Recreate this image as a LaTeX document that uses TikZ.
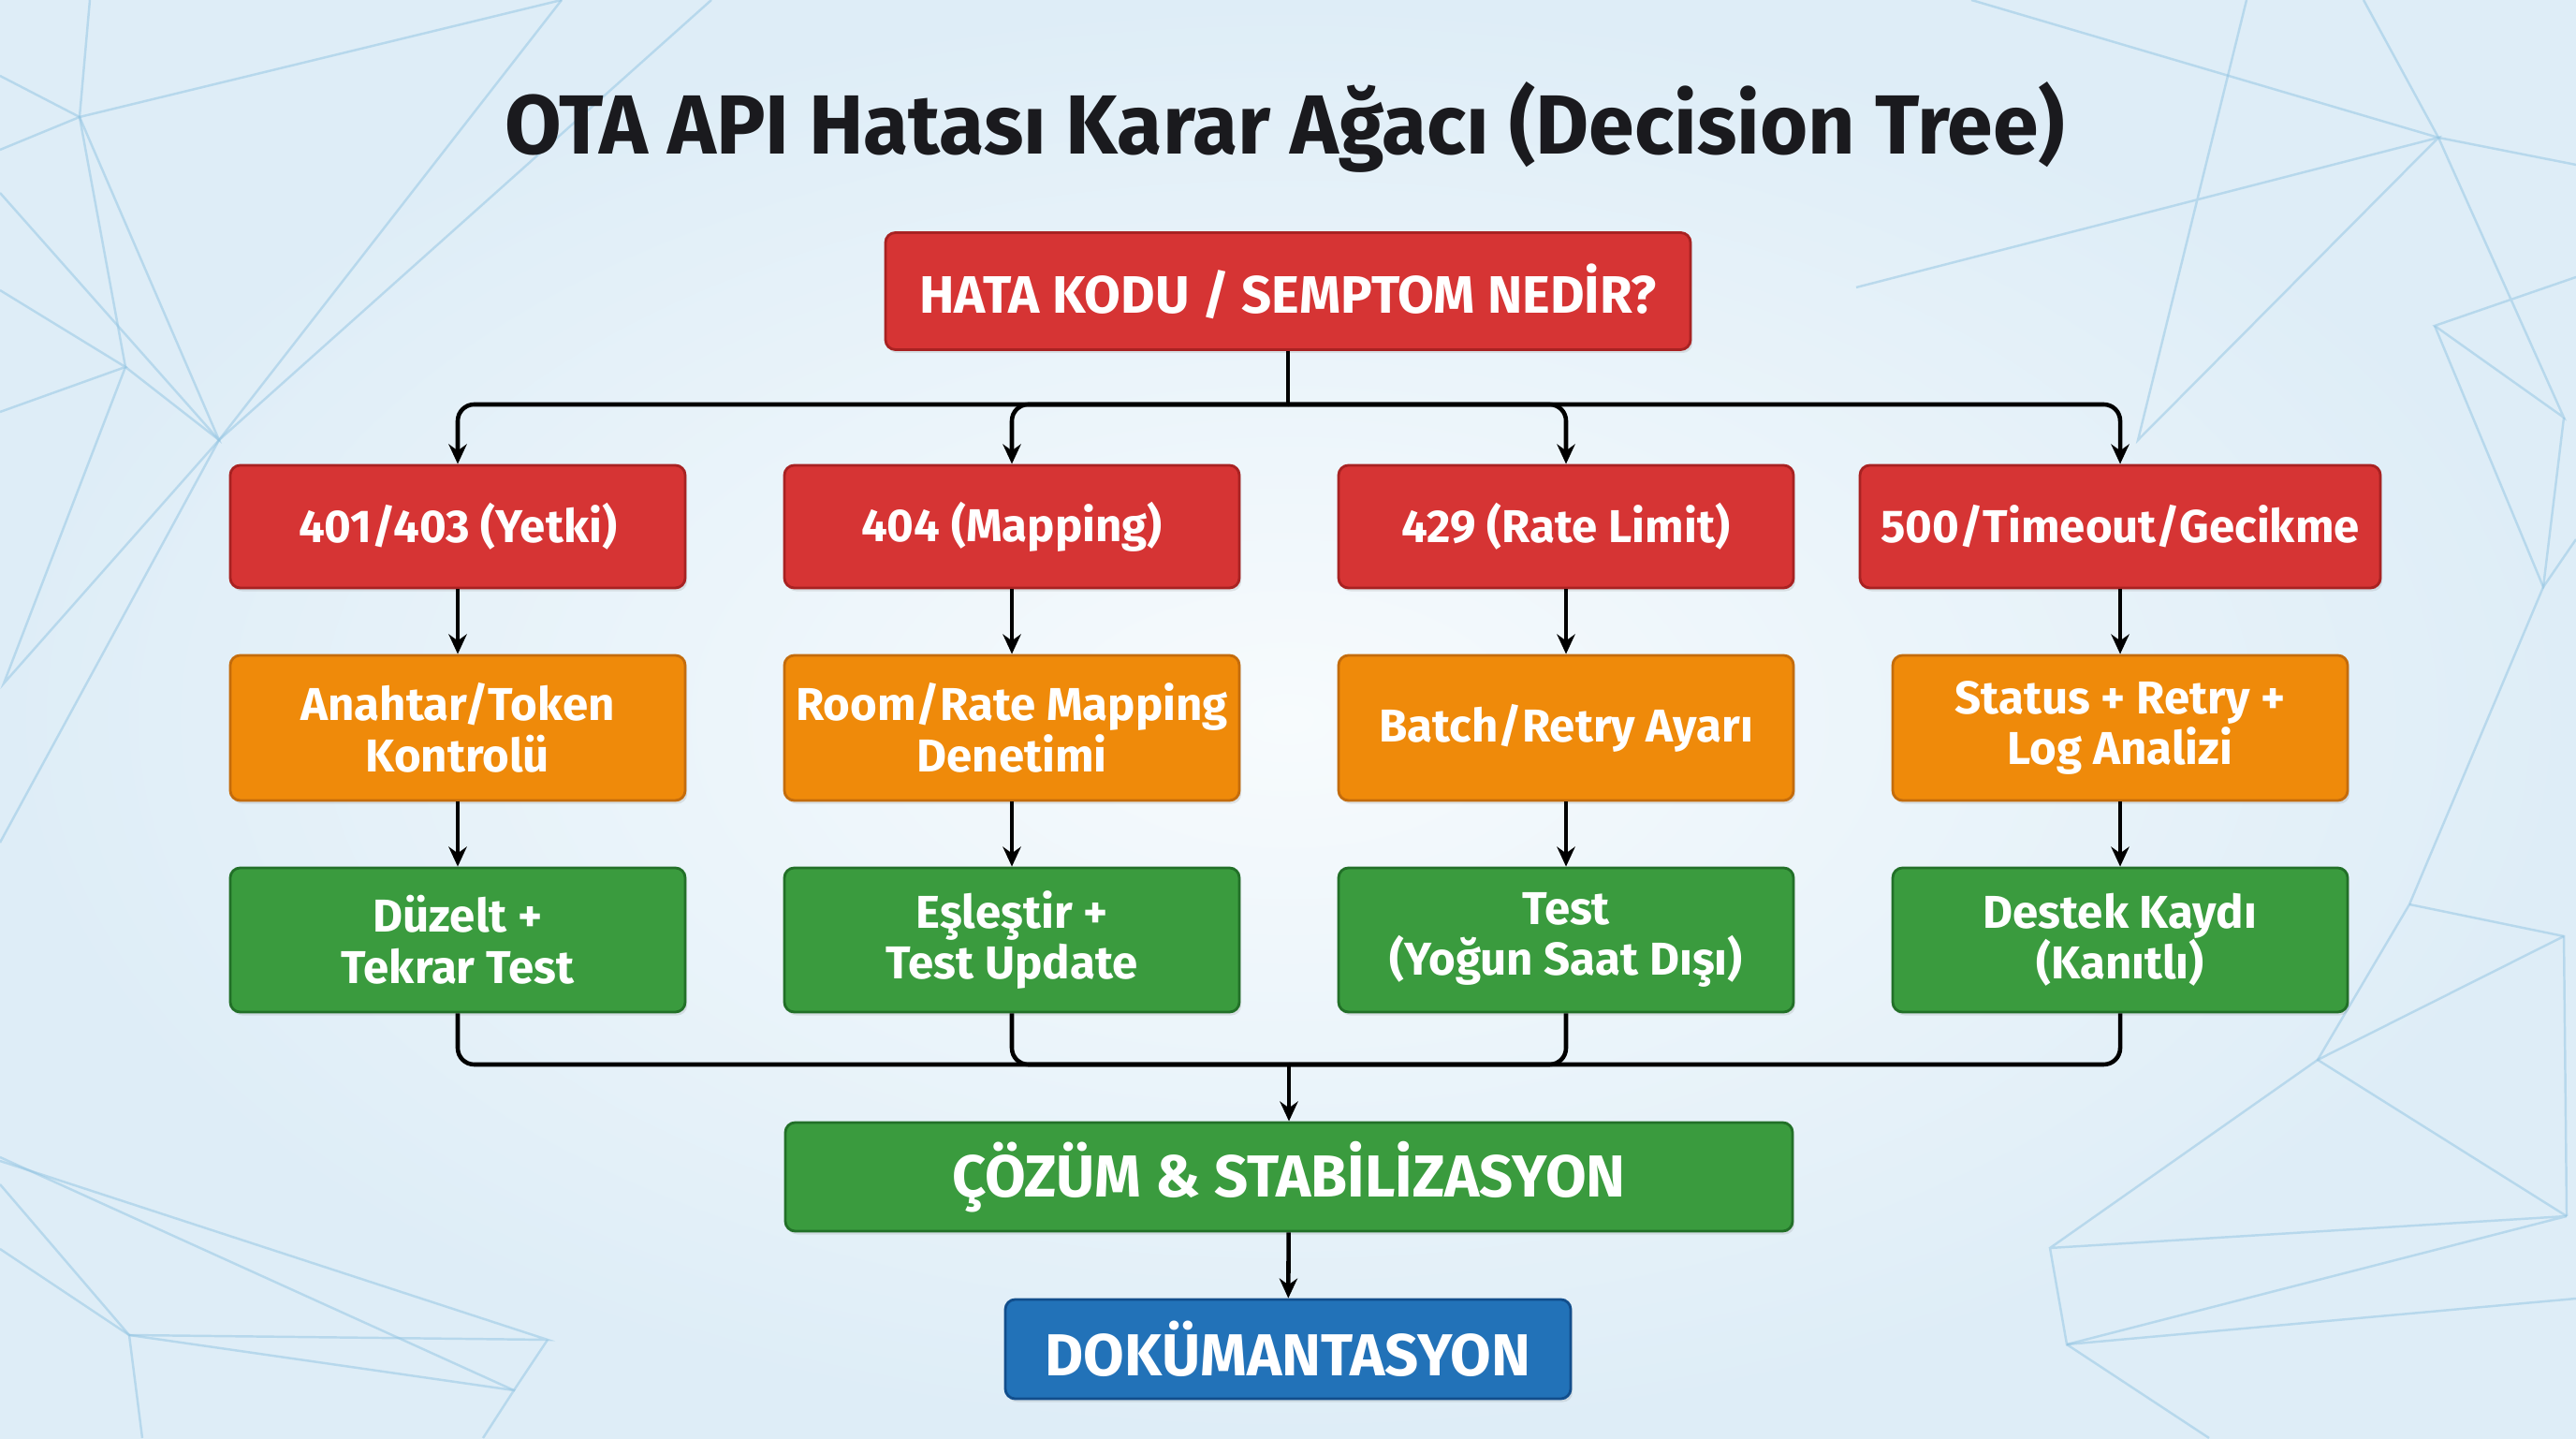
\documentclass[tikz,border=0pt]{standalone}
\usepackage{fontspec}
\usepackage{xcolor}
\usepackage{tikz}
\usetikzlibrary{arrows.meta,shadows}
\newfontfamily\boxfont{Fira Sans}
\newfontfamily\titlefont{Fira Sans}[FakeStretch=0.98]
\definecolor{errred}{RGB}{214,52,52}
\definecolor{errredline}{RGB}{168,34,34}
\definecolor{chkorange}{RGB}{239,138,10}
\definecolor{chkorangeline}{RGB}{196,108,12}
\definecolor{fixgreen}{RGB}{58,155,62}
\definecolor{fixgreenline}{RGB}{34,112,40}
\definecolor{docblue}{RGB}{34,114,184}
\definecolor{docblueline}{RGB}{18,78,140}
\definecolor{bgin}{RGB}{247,251,253}
\definecolor{bgout}{RGB}{222,237,247}
\definecolor{bgline}{RGB}{145,196,226}
\definecolor{titleink}{RGB}{26,26,30}

\begin{document}
\begin{tikzpicture}[>={Stealth[length=6pt,width=5.5pt]},
  box/.style={draw, line width=0.8pt, rounded corners=3pt, text=white,
    align=center, inner sep=2pt, minimum width=4.86cm,
    font={\boxfont\bfseries\fontsize{14pt}{15.5pt}\selectfont},
    drop shadow={opacity=0.18, shadow xshift=0.6pt, shadow yshift=-1pt}},
  errbox/.style={box, fill=errred, draw=errredline, minimum height=1.31cm},
  chkbox/.style={box, fill=chkorange, draw=chkorangeline, minimum height=1.55cm},
  fixbox/.style={box, fill=fixgreen, draw=fixgreenline, minimum height=1.54cm},
  link/.style={->, line width=1.3pt, black},
  web/.style={line width=0.7pt, bgline, opacity=0.5}]

  % Background
  \useasboundingbox (0,0) rectangle (27.52,15.36);
  \shade[inner color=bgin, outer color=bgout] (0,0) rectangle (27.52,15.36);

  % Polygon web, left
  \draw[web] (0.96,15.36) -- (0.85,14.11) -- (1.34,11.44) -- (0.04,8.06) -- (2.34,10.66) -- (6.0,15.36);
  \draw[web] (0,14.55) -- (0.85,14.11) -- (6.0,15.36);
  \draw[web] (0,13.76) -- (0.85,14.11) -- (2.34,10.66) -- (1.34,11.44);
  \draw[web] (0,12.26) -- (1.34,11.44) -- (0,10.96);
  \draw[web] (0,13.30) -- (2.34,10.66) -- (7.6,15.36);
  \draw[web] (0,6.36) -- (2.34,10.66);
  \draw[web] (0,2.96) -- (5.85,1.05) -- (1.38,1.10) -- (0,2.71);
  \draw[web] (0,2.02) -- (1.38,1.10) -- (1.52,0);
  \draw[web] (1.38,1.10) -- (5.49,0.51) -- (5.16,0);
  \draw[web] (0,3.0) -- (5.49,0.51) -- (5.85,1.05);

  % Polygon web, right
  \draw[web] (21.06,15.36) -- (26.05,13.89) -- (25.25,15.36);
  \draw[web] (27.52,13.60) -- (26.05,13.89) -- (27.39,10.90) -- (26.01,11.88) -- (27.52,12.40);
  \draw[web] (24.0,15.36) -- (22.84,10.66) -- (26.05,13.89) -- (19.83,12.29);
  \draw[web] (26.01,11.88) -- (27.17,9.09) -- (27.52,9.60);
  \draw[web] (27.39,10.90) -- (27.17,9.09) -- (25.74,5.70) -- (24.76,4.04) -- (27.42,2.37);
  \draw[web] (25.74,5.70) -- (27.39,5.36) -- (27.42,2.37);
  \draw[web] (24.76,4.04) -- (27.39,5.36);
  \draw[web] (21.90,2.03) -- (27.42,2.37) -- (22.08,1.00) -- (21.90,2.03) -- (24.76,4.04);
  \draw[web] (22.08,1.00) -- (27.52,1.49);
  \draw[web] (22.08,1.00) -- (23.6,0);

  % Title
  \node[anchor=base, text=titleink, font={\titlefont\bfseries\fontsize{25.5pt}{28pt}\selectfont}]
    (title) at (13.73,13.71) {OTA API Hatası Karar Ağacı (Decision Tree)};

  % Root question
  \node[errbox, minimum width=8.6cm, minimum height=1.25cm,
    font={\boxfont\bfseries\fontsize{16pt}{18pt}\selectfont}] (q) at (13.76,12.25)
    {HATA KODU / SEMPTOM NEDİR?};

  % Error codes
  \node[errbox] (e1) at (4.89,9.735) {401/403 (Yetki)};
  \node[errbox] (e2) at (10.81,9.735) {404 (Mapping)};
  \node[errbox] (e3) at (16.73,9.735) {429 (Rate Limit)};
  \node[errbox, minimum width=5.56cm] (e4) at (22.65,9.735) {500/Timeout/Gecikme};

  % Checks
  \node[chkbox] (c1) at (4.89,7.585) {Anahtar/Token\\Kontrolü};
  \node[chkbox] (c2) at (10.81,7.585) {Room/Rate Mapping\\Denetimi};
  \node[chkbox] (c3) at (16.73,7.585) {Batch/Retry Ayarı};
  \node[chkbox] (c4) at (22.65,7.585) {Status + Retry +\\Log Analizi};

  % Fixes
  \node[fixbox] (f1) at (4.89,5.32) {Düzelt +\\Tekrar Test};
  \node[fixbox] (f2) at (10.81,5.32) {Eşleştir +\\Test Update};
  \node[fixbox] (f3) at (16.73,5.32) {Test\\(Yoğun Saat Dışı)};
  \node[fixbox] (f4) at (22.65,5.32) {Destek Kaydı\\(Kanıtlı)};

  % Outcome
  \node[fixbox, minimum width=10.76cm, minimum height=1.16cm,
    font={\boxfont\bfseries\fontsize{18pt}{20pt}\selectfont}] (sol) at (13.77,2.79)
    {ÇÖZÜM \& STABİLİZASYON};
  \node[box, fill=docblue, draw=docblueline, minimum width=6.04cm, minimum height=1.06cm,
    font={\boxfont\bfseries\fontsize{18pt}{20pt}\selectfont}] (doc) at (13.76,0.95)
    {DOKÜMANTASYON};

  % Branching
  \coordinate (split) at (13.76,11.04);
  \draw[line width=1.3pt] (q.south) -- (split);
  \draw[link, rounded corners=5pt] (split) -| (e1.north);
  \draw[link, rounded corners=5pt] (split) -| (e2.north);
  \draw[link, rounded corners=5pt] (split) -| (e3.north);
  \draw[link, rounded corners=5pt] (split) -| (e4.north);

  % Columns
  \draw[link] (e1) -- (c1);
  \draw[link] (e2) -- (c2);
  \draw[link] (e3) -- (c3);
  \draw[link] (e4) -- (c4);
  \draw[link] (c1) -- (f1);
  \draw[link] (c2) -- (f2);
  \draw[link] (c3) -- (f3);
  \draw[link] (c4) -- (f4);

  % Merge
  \coordinate (join) at (13.77,3.99);
  \draw[line width=1.3pt, rounded corners=5pt] (f1.south) |- (join);
  \draw[line width=1.3pt, rounded corners=5pt] (f2.south) |- (join);
  \draw[line width=1.3pt, rounded corners=5pt] (f3.south) |- (join);
  \draw[line width=1.3pt, rounded corners=5pt] (f4.south) |- (join);
  \draw[link] (join) -- (sol.north);
  \draw[link] (sol) -- (doc);

\end{tikzpicture}
\end{document}
